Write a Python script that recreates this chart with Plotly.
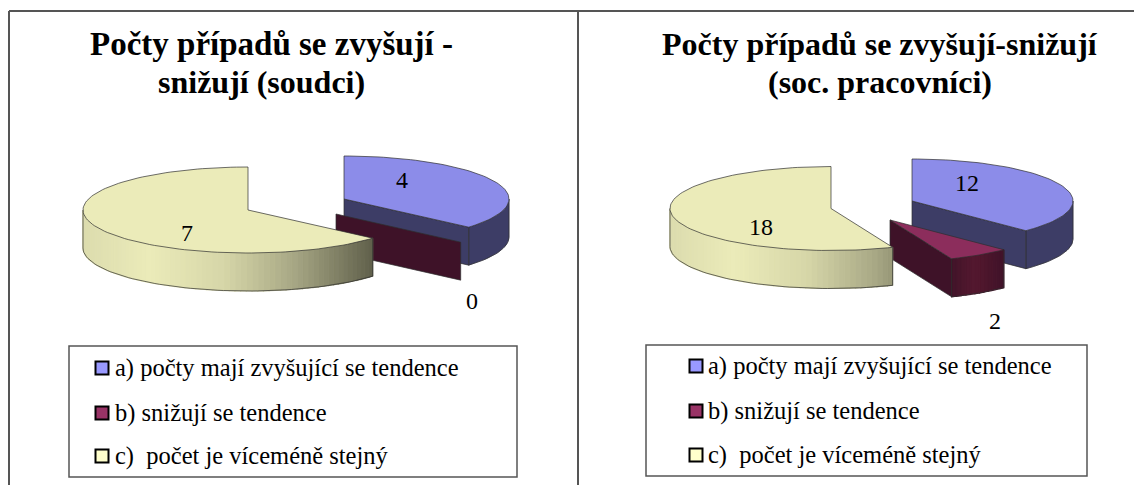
import math
import plotly.graph_objects as go

# ---- data ----
categories = ["a) počty mají zvyšující se tendence", "b) snižují se tendence", "c)  počet je víceméně stejný"]
values_left = [4, 0, 7]
values_right = [12, 2, 18]
title_left = ["Počty případů se zvyšují -", "snižují (soudci)"]
title_right = ["Počty případů se zvyšují-snižují", "(soc. pracovníci)"]

# ---- styles ----
TOP = ["#8c8ce9", "#8c2d5c", "#ebebb9"]
SIDE = ["#3d3d66", "#3e1228", "#ebebb9"]
SWATCH = ["#9999ff", "#993366", "#ffffcc"]
FONT = "Liberation Serif"
EDGE = "#2e2e2e"
FRAME = "#555555"

def hex2rgb(h):
    return [int(h[i:i + 2], 16) for i in (1, 3, 5)]

def interp(stops, t):
    if t <= stops[0][0]:
        return stops[0][1]
    for (a, ca), (b, cb) in zip(stops, stops[1:]):
        if t <= b:
            f = (t - a) / (b - a)
            A, B = hex2rgb(ca), hex2rgb(cb)
            return "rgb(%d,%d,%d)" % tuple(round(A[i] + (B[i] - A[i]) * f) for i in range(3))
    return stops[-1][1]

YELLOW_STOPS = [(-1.0, "#dcdcae"), (-0.6, "#ebebb9"), (-0.15, "#d6d6a8"),
                (0.27, "#a8a885"), (0.58, "#7a7a60"), (0.76, "#5f5f4a"), (1.0, "#4a4a3a")]
RED_STOPS = [(0.35, "#3e1228"), (0.52, "#54182f"), (0.72, "#3e1228")]

fig = go.Figure()

def poly(xs, ys, fill, line=EDGE, width=0.7, name=None):
    fig.add_trace(go.Scatter(x=xs, y=ys, mode="lines", fill="toself", fillcolor=fill,
                             line=dict(color=line, width=width), hoverinfo="skip",
                             showlegend=False, name=name))

def outline(xs, ys):
    fig.add_trace(go.Scatter(x=xs, y=ys, mode="lines", line=dict(color=EDGE, width=0.7),
                             hoverinfo="skip", showlegend=False))

def pt(c, rx, ry, deg, dz=0):
    a = math.radians(deg)
    return c[0] + rx * math.sin(a), c[1] - ry * math.cos(a) + dz

def wall(c, rx, ry, depth, angles, col, width):
    up = [pt(c, rx, ry, a) for a in angles]
    dn = [pt(c, rx, ry, a, depth) for a in reversed(angles)]
    ring = up + dn + up[:1]
    poly([p[0] for p in ring], [p[1] for p in ring], col, line=col, width=width)

def slice3d(c, rx, ry, depth, a0, a1, idx):
    n = max(2, int((a1 - a0) / 2) + 2)
    angs = [a0 + (a1 - a0) * i / (n - 1) for i in range(n)]
    # outer wall, only the part facing the viewer
    w0, w1 = max(a0, 90), min(a1, 270)
    if w1 > w0:
        m = max(2, int((w1 - w0) / 2) + 2)
        wa = [w0 + (w1 - w0) * i / (m - 1) for i in range(m)]
        if idx == 0:
            wall(c, rx, ry, depth, wa, SIDE[0], 0.5)
        else:
            stops = YELLOW_STOPS if idx == 2 else RED_STOPS
            for p, q in zip(wa, wa[1:]):
                col = interp(stops, math.sin(math.radians((p + q) / 2)))
                wall(c, rx, ry, depth, [p, q], col, 1.2)
        top = [pt(c, rx, ry, a, depth) for a in wa]
        outline([t[0] for t in top], [t[1] for t in top])
        for w in (w0, w1):
            A, B = pt(c, rx, ry, w), pt(c, rx, ry, w, depth)
            outline([A[0], B[0]], [A[1], B[1]])
    # radial end face, visible when facing the front
    if a1 < 180 or idx == 1:
        E = pt(c, rx, ry, a1)
        E2 = pt(c, rx, ry, a1, depth)
        poly([c[0], E[0], E2[0], c[0], c[0]], [c[1], E[1], E2[1], c[1] + depth, c[1]], SIDE[idx])
    # top
    if a1 > a0:
        arc = [pt(c, rx, ry, a) for a in angs]
        poly([c[0]] + [p[0] for p in arc] + [c[0]], [c[1]] + [p[1] for p in arc] + [c[1]], TOP[idx])

def pie(values, centers, rx, ry, depth):
    tot = sum(values)
    a = 0
    for i, v in enumerate(values):
        sweep = 360 * v / tot
        slice3d(centers[i], rx, ry, depth, a, a + sweep, i)
        a += sweep

pie(values_left, [(344, 199), (336, 214), (248, 210)], 165, 43, 38)
pie(values_right, [(912, 201), (890, 220), (831, 208.5)], 161, 42, 38)

ann = []

def text(x, y, s, size, bold=False, anchor="center"):
    ann.append(dict(x=x, y=y, xref="x", yref="y", text="<b>%s</b>" % s if bold else s, showarrow=False,
                    xanchor=anchor, yanchor="middle", font=dict(family=FONT, size=size, color="#000000")))

# value labels (same order as the values: a, b, c)
for v, (x, y) in zip(values_left, [(402, 180), (472, 301), (187, 233)]):
    text(x, y, str(v), 24)
for v, (x, y) in zip(values_right, [(967, 183), (995, 321), (761, 227)]):
    text(x, y, str(v), 24)

# titles
text(271, 44, title_left[0], 33, True)
text(261, 82, title_left[1], 32, True)
text(880, 44, title_right[0], 32, True)
text(880, 82, title_right[1], 32, True)

# legends
shapes = []
for x0, x1, y0, y1, sx, tx, rows in [(69, 517, 346, 477, 102, 113, [368, 413, 456]),
                                     (646, 1087, 345, 476, 696, 706, [366, 411, 455])]:
    shapes.append(dict(type="rect", xref="x", yref="y", x0=x0, x1=x1, y0=y0, y1=y1,
                       line=dict(color=FRAME, width=1.5), fillcolor="rgba(0,0,0,0)"))
    for i, (cat, y) in enumerate(zip(categories, rows)):
        fig.add_trace(go.Scatter(x=[sx], y=[y], mode="markers", hoverinfo="skip", showlegend=False,
                                 marker=dict(symbol="square", size=13, color=SWATCH[i],
                                             line=dict(color="#000000", width=2))))
        text(tx, y, cat, 24.5, anchor="left")

# frame
for x0, y0, x1, y1 in [(9, 11, 1134, 11), (9, 11, 9, 485), (578, 11, 578, 485)]:
    shapes.append(dict(type="line", xref="x", yref="y", x0=x0, y0=y0, x1=x1, y1=y1,
                       line=dict(color=FRAME, width=2)))

fig.update_layout(width=1134, height=485, margin=dict(l=0, r=0, t=0, b=0),
                  paper_bgcolor="white", plot_bgcolor="white", showlegend=False,
                  annotations=ann, shapes=shapes,
                  xaxis=dict(range=[0, 1134], visible=False, fixedrange=True),
                  yaxis=dict(range=[485, 0], visible=False, fixedrange=True))
fig.write_html("out.html", config={"displayModeBar": False},
               post_script="document.body.style.margin='0';document.body.style.overflow='hidden';")
